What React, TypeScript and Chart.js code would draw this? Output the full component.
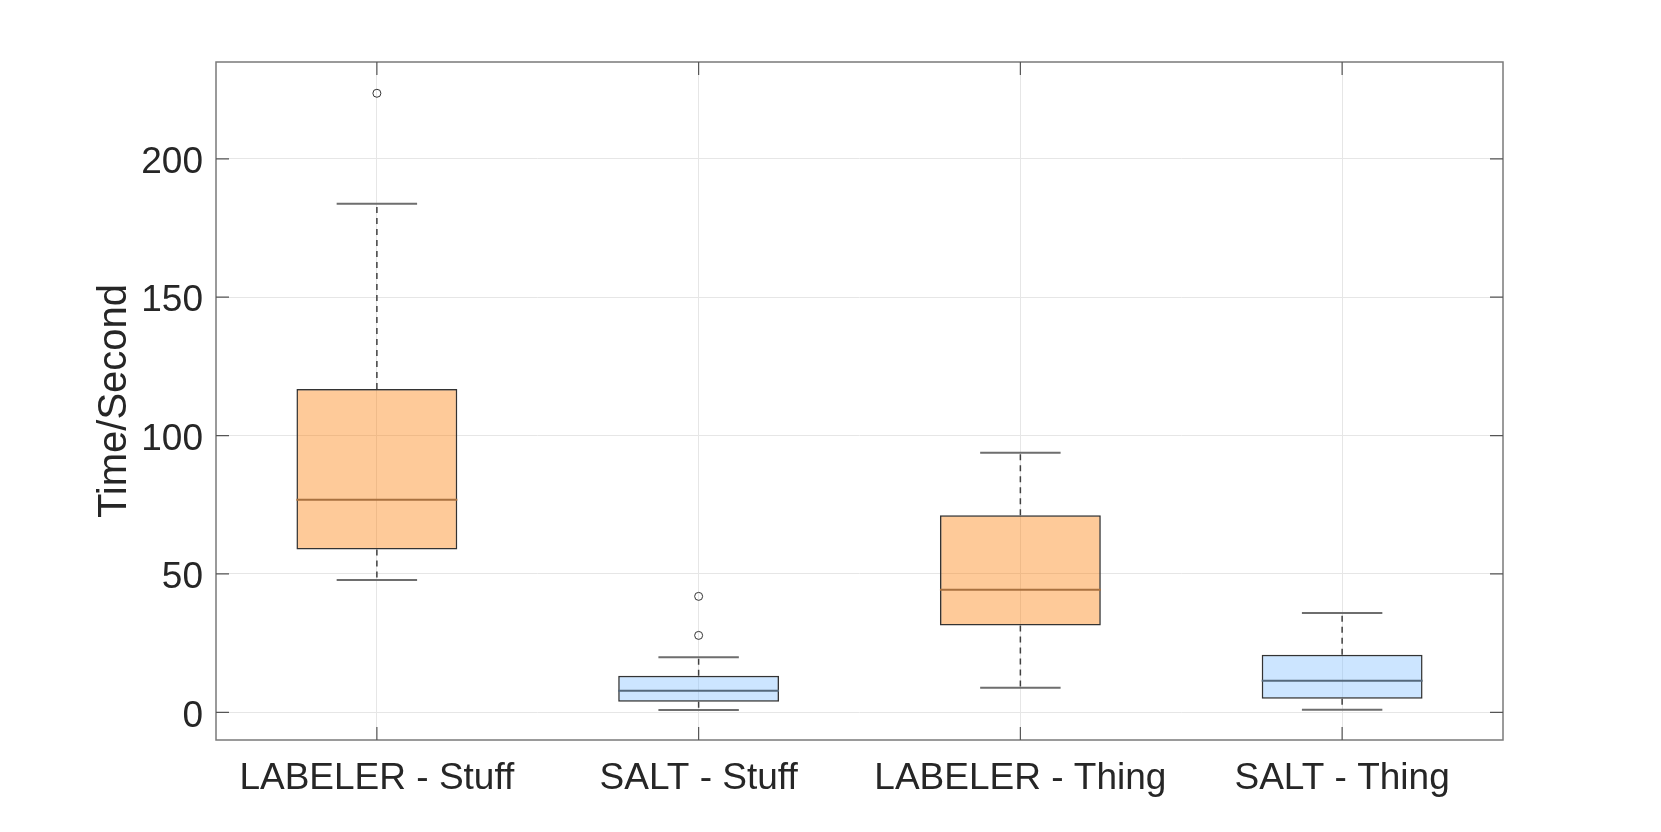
import React, { useEffect, useRef } from "react";
import { Chart, registerables } from "chart.js";

Chart.register(...registerables);

const categories = ["LABELER - Stuff", "SALT - Stuff", "LABELER - Thing", "SALT - Thing"];
const lowerWhisker = [47.8, 0.8, 8.9, 0.9];
const q1 = [58.8, 3.8, 31.4, 4.9];
const median = [76.8, 7.8, 44.3, 11.4];
const q3 = [116.8, 13.2, 71.2, 20.8];
const upperWhisker = [183.8, 19.9, 93.8, 35.9];
const outlierCategory = ["LABELER - Stuff", "SALT - Stuff", "SALT - Stuff"];
const outlierValue = [223.7, 41.9, 27.8];
const yTicks = [0, 50, 100, 150, 200];
const yMin = -10;
const yMax = 235;

const fillColors = ["rgba(252,122,0,0.4)", "rgba(128,190,255,0.4)", "rgba(252,122,0,0.4)", "rgba(128,190,255,0.4)"];
const medianColors = ["#a9713f", "#55697c", "#a9713f", "#55697c"];
const FONT = "Arial, 'Liberation Sans', sans-serif";

const boxPlugin = {
  id: "boxExtras",
  afterDatasetsDraw(chart: any) {
    const { ctx, scales, chartArea } = chart;
    const x = scales.x;
    const y = scales.y;
    const step = x.getPixelForValue(1) - x.getPixelForValue(0);
    const halfBox = step * 0.25;
    const halfCap = step * 0.125;
    ctx.save();
    for (let i = 0; i < categories.length; i++) {
      const cx = x.getPixelForValue(i);
      ctx.strokeStyle = "#404040";
      ctx.lineWidth = 1.5;
      ctx.setLineDash([6, 5]);
      ctx.beginPath();
      ctx.moveTo(cx, y.getPixelForValue(q3[i]));
      ctx.lineTo(cx, y.getPixelForValue(upperWhisker[i]));
      ctx.moveTo(cx, y.getPixelForValue(q1[i]));
      ctx.lineTo(cx, y.getPixelForValue(lowerWhisker[i]));
      ctx.stroke();
      ctx.setLineDash([]);
      ctx.strokeStyle = "#6e6e6e";
      ctx.lineWidth = 2;
      ctx.beginPath();
      const yu = y.getPixelForValue(upperWhisker[i]);
      const yl = y.getPixelForValue(lowerWhisker[i]);
      ctx.moveTo(cx - halfCap, yu);
      ctx.lineTo(cx + halfCap, yu);
      ctx.moveTo(cx - halfCap, yl);
      ctx.lineTo(cx + halfCap, yl);
      ctx.stroke();
      ctx.strokeStyle = medianColors[i];
      ctx.lineWidth = 2;
      const ym = y.getPixelForValue(median[i]);
      ctx.beginPath();
      ctx.moveTo(cx - halfBox, ym);
      ctx.lineTo(cx + halfBox, ym);
      ctx.stroke();
    }
    ctx.strokeStyle = "#7a7a7a";
    ctx.lineWidth = 1.5;
    ctx.strokeRect(chartArea.left, chartArea.top, chartArea.right - chartArea.left, chartArea.bottom - chartArea.top);
    const tl = 13;
    ctx.strokeStyle = "#555";
    ctx.lineWidth = 1.2;
    ctx.beginPath();
    for (const v of yTicks) {
      const py = y.getPixelForValue(v);
      ctx.moveTo(chartArea.left, py);
      ctx.lineTo(chartArea.left + tl, py);
      ctx.moveTo(chartArea.right, py);
      ctx.lineTo(chartArea.right - tl, py);
    }
    for (let i = 0; i < categories.length; i++) {
      const px = x.getPixelForValue(i);
      ctx.moveTo(px, chartArea.bottom);
      ctx.lineTo(px, chartArea.bottom - tl);
      ctx.moveTo(px, chartArea.top);
      ctx.lineTo(px, chartArea.top + tl);
    }
    ctx.stroke();
    ctx.restore();
  },
};

export default function App() {
  const ref = useRef<HTMLCanvasElement | null>(null);
  useEffect(() => {
    if (!ref.current) return;
    const chart = new Chart(ref.current, {
      type: "bar",
      data: {
        labels: categories,
        datasets: [
          {
            type: "bar",
            data: categories.map((_, i) => [q1[i], q3[i]]) as any,
            backgroundColor: fillColors,
            borderColor: "#333333",
            borderWidth: 1.5,
            borderSkipped: false,
            categoryPercentage: 1,
            barPercentage: 0.5,
          } as any,
          {
            type: "scatter",
            data: outlierCategory.map((c, i) => ({ x: c, y: outlierValue[i] })),
            pointStyle: "circle",
            radius: 4,
            borderColor: "#333333",
            backgroundColor: "rgba(255,255,255,0)",
            borderWidth: 1,
          } as any,
        ],
      },
      options: {
        responsive: false,
        animation: false,
        layout: { padding: { top: 62, right: 158, left: 0, bottom: 0 } },
        plugins: { legend: { display: false }, tooltip: { enabled: false } },
        scales: {
          x: {
            type: "category",
            offset: true,
            grid: { offset: false, color: "#e6e6e6", lineWidth: 1, drawTicks: false },
            border: { display: false },
            ticks: { color: "#262626", font: { family: FONT, size: 37 }, padding: 17, maxRotation: 0 },
            afterFit: (s: any) => { s.height = 92; },
          },
          y: {
            type: "linear",
            min: yMin,
            max: yMax,
            grid: { color: "#e6e6e6", lineWidth: 1, drawTicks: false },
            border: { display: false },
            afterBuildTicks: (axis: any) => { axis.ticks = yTicks.map((v) => ({ value: v })); },
            ticks: { color: "#262626", font: { family: FONT, size: 37 }, padding: 13, labelOffset: 4 },
            title: {
              display: true,
              text: "Time/Second",
              color: "#262626",
              font: { family: FONT, size: 40 },
              padding: { top: 91, bottom: 0 },
            },
            afterFit: (s: any) => { s.width = 216; },
          },
        },
      },
      plugins: [boxPlugin],
    });
    return () => chart.destroy();
  }, []);
  return (
    <div style={{ position: "fixed", left: 0, top: 0, width: 1661, height: 832, background: "#fff" }}>
      <canvas ref={ref} width={1661} height={832} style={{ width: 1661, height: 832, display: "block" }} />
    </div>
  );
}
